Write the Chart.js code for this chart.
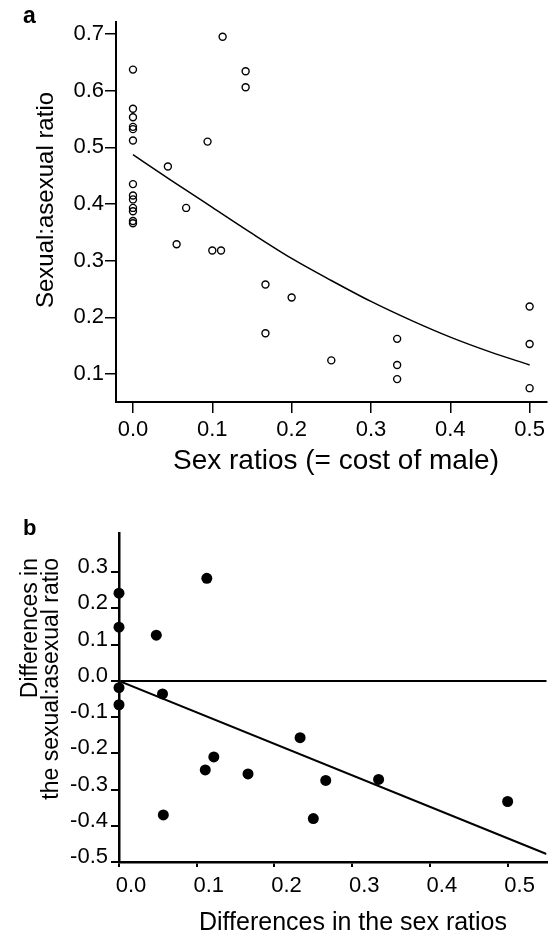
<!DOCTYPE html>
<html>
<head>
<meta charset="utf-8">
<script src="https://cdn.jsdelivr.net/npm/chart.js@4.4.1/dist/chart.umd.min.js"></script>
<style>
  body { margin: 0; background: #fff; }
  canvas { display: block; }
</style>
</head>
<body>
<canvas id="chartA" width="552" height="480"></canvas>
<canvas id="chartB" width="552" height="456"></canvas>
<script>
// ---- panel a: sex ratio vs sexual:asexual ratio ----
const aX = [0, 0, 0, 0, 0, 0, 0, 0, 0, 0, 0, 0, 0,
            0.044, 0.113, 0.142, 0.142, 0.094, 0.067, 0.055, 0.100, 0.111,
            0.167, 0.167, 0.200, 0.250, 0.333, 0.333, 0.333, 0.500, 0.500, 0.500];
const aY = [0.637, 0.568, 0.553, 0.536, 0.532, 0.512, 0.435, 0.415, 0.408, 0.393, 0.387, 0.370, 0.366,
            0.466, 0.695, 0.634, 0.606, 0.510, 0.393, 0.329, 0.318, 0.318,
            0.258, 0.172, 0.235, 0.124, 0.162, 0.116, 0.091, 0.219, 0.153, 0.075];
// fitted curve
const aFitX = [0, 0.05, 0.10, 0.15, 0.20, 0.25, 0.30, 0.35, 0.40, 0.45, 0.50];
const aFitY = [0.487, 0.440, 0.394, 0.348, 0.304, 0.265, 0.228, 0.195, 0.165, 0.139, 0.116];
const aXTicks = [0, 0.1, 0.2, 0.3, 0.4, 0.5];
const aYTicks = [0.1, 0.2, 0.3, 0.4, 0.5, 0.6, 0.7];

// ---- panel b: differences ----
const bX = [0, 0, 0.113, 0.048, 0, 0.056, 0, 0.122, 0.111, 0.166, 0.057, 0.233, 0.266, 0.250, 0.334, 0.500];
const bY = [0.242, 0.148, 0.283, 0.126, -0.019, -0.036, -0.066, -0.210, -0.246, -0.257, -0.370, -0.157, -0.275, -0.380, -0.272, -0.333];
const bFitX = [0, 0.55];
const bFitY = [0, -0.478];
const bXTicks = [0, 0.1, 0.2, 0.3, 0.4, 0.5];
const bYTicks = [-0.5, -0.4, -0.3, -0.2, -0.1, 0, 0.1, 0.2, 0.3];

const FONT = "'Liberation Sans', Arial, sans-serif";
Chart.defaults.font.family = FONT;
Chart.defaults.color = '#000';

function pts(xs, ys) {
    return xs.map((x, i) => ({ x: x, y: ys[i] }));
}
function fixTicks(list) {
    return scale => { scale.ticks = list.map(v => ({ value: v })); };
}
const fmt = v => Number(v).toFixed(1);

// free text: panel letters and axis titles
const freeText = {
    id: 'freeText',
    afterDraw(chart, args, opts) {
        const ctx = chart.ctx;
        (opts.items || []).forEach(t => {
            ctx.save();
            ctx.font = t.font;
            ctx.fillStyle = '#000';
            ctx.translate(t.x, t.y);
            if (t.rotate) ctx.rotate(-Math.PI / 2);
            ctx.textAlign = t.align || 'center';
            ctx.textBaseline = t.baseline || 'middle';
            ctx.fillText(t.text, 0, 0);
            ctx.restore();
        });
    }
};

/* ================= PANEL A ================= */
new Chart(document.getElementById('chartA'), {
    type: 'scatter',
    data: {
        datasets: [{
            data: pts(aX, aY),
            pointRadius: 3.5,
            pointBorderWidth: 1.4,
            borderColor: '#000',
            backgroundColor: 'rgba(0,0,0,0)',
            clip: false
        }, {
            type: 'line',
            data: pts(aFitX, aFitY),
            borderColor: '#000',
            borderWidth: 1.5,
            pointRadius: 0,
            cubicInterpolationMode: 'monotone',
            fill: false
        }]
    },
    options: {
        responsive: false,
        animation: false,
        devicePixelRatio: 1,
        layout: { padding: { top: 22, right: 5, left: 0, bottom: 0 } },
        plugins: {
            legend: { display: false },
            tooltip: { enabled: false },
            freeText: {
                items: [
                    { text: 'a', x: 23, y: 23, font: 'bold 23px ' + FONT, align: 'left', baseline: 'alphabetic' },
                    { text: 'Sexual:asexual ratio', x: 46, y: 200, rotate: true, font: '24px ' + FONT },
                    { text: 'Sex ratios (= cost of male)', x: 336, y: 461, font: '28px ' + FONT }
                ]
            }
        },
        scales: {
            x: {
                type: 'linear',
                min: -0.0214,
                max: 0.5214,
                afterBuildTicks: fixTicks(aXTicks),
                afterFit: s => { s.height = 78; },
                ticks: { callback: fmt, font: { size: 22 }, padding: 4, maxRotation: 0 },
                grid: { drawOnChartArea: false, tickLength: 11, color: '#000', lineWidth: 1.5 },
                border: { color: '#000', width: 2 }
            },
            y: {
                type: 'linear',
                min: 0.0506,
                max: 0.721,
                afterBuildTicks: fixTicks(aYTicks),
                afterFit: s => { s.width = 116; },
                ticks: { callback: fmt, font: { size: 22 }, padding: 1 },
                grid: { drawOnChartArea: false, tickLength: 11, color: '#000', lineWidth: 1.5 },
                border: { color: '#000', width: 2 }
            }
        }
    },
    plugins: [freeText]
});

/* ================= PANEL B ================= */
new Chart(document.getElementById('chartB'), {
    type: 'scatter',
    data: {
        datasets: [{
            data: pts(bX, bY),
            pointRadius: 5.5,
            pointBorderWidth: 0,
            backgroundColor: '#000',
            borderColor: '#000',
            clip: false
        }, {
            type: 'line',
            data: pts(bFitX, bFitY),
            borderColor: '#000',
            borderWidth: 2,
            pointRadius: 0,
            fill: false
        }]
    },
    options: {
        responsive: false,
        animation: false,
        devicePixelRatio: 1,
        layout: { padding: { top: 53, right: 0, left: 0, bottom: 0 } },
        plugins: {
            legend: { display: false },
            tooltip: { enabled: false },
            freeText: {
                items: [
                    { text: 'b', x: 23, y: 55, font: 'bold 22px ' + FONT, align: 'left', baseline: 'alphabetic' },
                    { text: 'Differences in', x: 31, y: 78, rotate: true, font: '23px ' + FONT, align: 'right' },
                    { text: 'the sexual:asexual ratio', x: 52, y: 78, rotate: true, font: '23px ' + FONT, align: 'right' },
                    { text: 'Differences in the sex ratios', x: 353, y: 443, font: '25px ' + FONT }
                ]
            }
        },
        scales: {
            x: {
                type: 'linear',
                min: 0,
                max: 0.55,
                afterBuildTicks: fixTicks(bXTicks),
                afterFit: s => { s.height = 74; },
                ticks: { callback: fmt, font: { size: 22 }, padding: 6, labelOffset: 12, maxRotation: 0 },
                grid: { drawOnChartArea: false, tickLength: 5, color: '#000', lineWidth: 2 },
                border: { color: '#000', width: 2.5 }
            },
            y: {
                type: 'linear',
                min: -0.5,
                max: 0.408,
                afterBuildTicks: fixTicks(bYTicks),
                afterFit: s => { s.width = 119; },
                ticks: { callback: fmt, font: { size: 22 }, padding: 3, labelOffset: -5 },
                grid: {
                    drawOnChartArea: true,
                    tickLength: 8,
                    lineWidth: 2,
                    color: c => (c.tick && c.tick.value === 0) ? '#000' : 'rgba(0,0,0,0)',
                    tickColor: '#000'
                },
                border: { color: '#000', width: 2.5 }
            }
        }
    },
    plugins: [freeText]
});
</script>
</body>
</html>
